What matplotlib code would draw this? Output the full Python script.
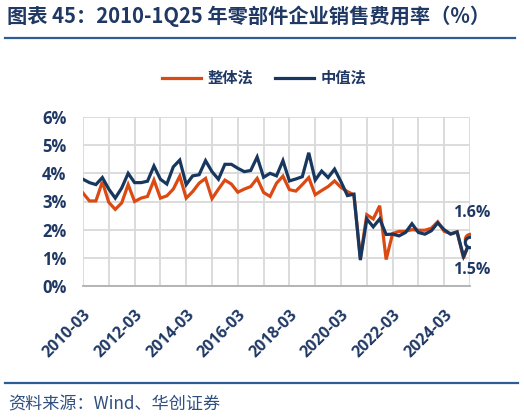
import matplotlib
matplotlib.use("Agg")
import matplotlib.pyplot as plt
from matplotlib.lines import Line2D

# ---------------- data ----------------
quarters = [f"{y}-{m:02d}" for y in range(2010, 2026) for m in (3, 6, 9, 12)][:61]

overall = [3.30, 3.02, 3.02, 3.70, 2.97, 2.72, 2.95, 3.60, 3.00, 3.12,
           3.18, 3.76, 3.12, 3.20, 3.44, 3.90, 3.12, 3.35, 3.65, 3.82,
           3.10, 3.44, 3.76, 3.62, 3.33, 3.44, 3.53, 3.82, 3.32, 3.18,
           3.65, 3.90, 3.42, 3.37, 3.60, 3.85, 3.24, 3.39, 3.53, 3.73,
           3.50, 3.35, 3.24, 1.00, 2.53, 2.38, 2.85, 0.94, 1.86, 1.94,
           1.94, 2.00, 1.98, 1.98, 2.05, 2.28, 1.94, 1.86, 1.92, 0.98,
           1.66]

median = [3.79, 3.67, 3.60, 3.85, 3.44, 3.12, 3.48, 4.00, 3.67, 3.67,
          3.72, 4.26, 3.79, 3.62, 4.23, 4.47, 3.60, 3.91, 3.95, 4.45,
          4.06, 3.79, 4.32, 4.32, 4.18, 4.06, 4.10, 4.58, 3.86, 4.00,
          3.91, 4.45, 3.73, 3.80, 3.88, 4.73, 3.76, 4.08, 3.85, 4.15,
          3.70, 3.21, 3.26, 0.92, 2.38, 2.10, 2.38, 1.83, 1.84, 1.78,
          1.90, 2.21, 1.90, 1.84, 1.96, 2.24, 2.00, 1.84, 1.92, 1.05,
          1.55]

series_names = ["整体法", "中值法"]
end_labels = ["1.6%", "1.5%"]
yticks = [0, 1, 2, 3, 4, 5, 6]

ORANGE = "#DC4A14"
NAVY = "#17375E"
TXT = "#1F3864"
GRID = "#D9D9D9"
CJK = ["Noto Sans CJK SC", "DejaVu Sans"]
LAT = ["Open Sans", "DejaVu Sans"]

fig = plt.figure(figsize=(5.24, 4.18), dpi=100)

# title
fig.text(0.013, 0.962, "图表 45：2010-1Q25 年零部件企业销售费用率（%）",
         family=CJK, fontsize=14.6, fontweight="bold", color=TXT,
         ha="left", va="center")
fig.add_artist(Line2D([0.010, 0.982], [0.908, 0.908], color="#2E5C94", lw=1.6))
fig.add_artist(Line2D([0.010, 0.988], [0.083, 0.083], color="#2E5C94", lw=1.6))
fig.text(0.015, 0.033, "资料来源：Wind、华创证券", family=CJK, fontsize=12.3,
         style="italic", color="#2F4F7F", ha="left", va="center")

ax = fig.add_axes([83 / 524, 1 - 286 / 418, (470 - 83) / 524, (286 - 117) / 418])
x = list(range(len(quarters)))
ax.plot(x, overall, color=ORANGE, lw=2.3, label=series_names[0], zorder=3,
        solid_joinstyle="miter")
ax.plot(x, median, color=NAVY, lw=2.3, label=series_names[1], zorder=4,
        solid_joinstyle="miter")
ax.plot([x[-1]], [overall[-1]], marker="o", ms=7.5, mfc="white", mec=ORANGE,
        mew=2.2, zorder=5)
ax.plot([x[-1]], [median[-1]], marker="o", ms=7.5, mfc="white", mec=NAVY,
        mew=2.2, zorder=6)

ax.annotate(end_labels[0], xy=(x[-1], overall[-1]), xytext=(1, 19),
            textcoords="offset points", ha="center", va="center",
            family=LAT, fontsize=11.5, fontweight="bold", color=TXT)
ax.annotate(end_labels[1], xy=(x[-1], median[-1]), xytext=(1, -20),
            textcoords="offset points", ha="center", va="center",
            family=LAT, fontsize=11.5, fontweight="bold", color=TXT)

ax.set_xlim(0, len(quarters) - 1)
ax.set_ylim(yticks[0], yticks[-1])
ax.set_yticks(yticks)
ax.set_yticklabels([f"{v}%" for v in yticks], family=LAT, fontsize=12,
                   fontweight="bold", color=TXT)
xt = list(range(0, len(quarters), 4))
ax.set_xticks(xt)
ax.set_xticklabels([quarters[i] if i % 8 == 0 else "" for i in xt],
                   rotation=45, ha="right", va="top", rotation_mode="anchor",
                   family=LAT, fontsize=11.5, fontweight="bold", color=TXT)
ax.tick_params(axis="both", length=0)
ax.tick_params(axis="y", pad=12)
ax.tick_params(axis="x", pad=15)
ax.grid(True, color=GRID, lw=1.3)
ax.set_axisbelow(True)
for s in ("top", "right", "left"):
    ax.spines[s].set_visible(False)
ax.spines["bottom"].set_color("#B0B0B0")
ax.spines["bottom"].set_linewidth(1.3)

fig.legend(handles=ax.get_lines()[:2], labels=series_names, loc="center",
           bbox_to_anchor=(264 / 524, 1 - 78 / 418), ncol=2, frameon=False,
           prop={"family": CJK, "size": 11, "weight": "bold"},
           labelcolor=TXT, handlelength=2.6, handletextpad=0.4,
           columnspacing=1.4)

fig.savefig("out.png", dpi=100)
